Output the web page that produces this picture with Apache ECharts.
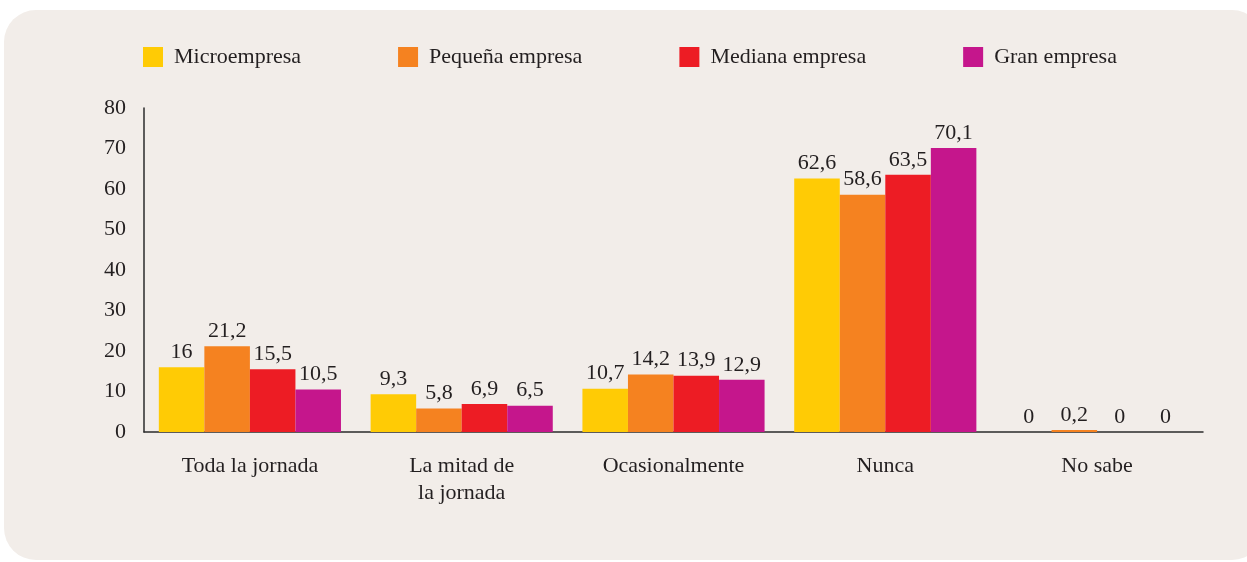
<!DOCTYPE html>
<html>
<head>
<meta charset="utf-8">
<script src="https://cdn.jsdelivr.net/npm/echarts@6/dist/echarts.min.js"></script>
<style>
html,body{margin:0;padding:0;background:#fff;}
#panel{position:absolute;left:4px;top:10px;width:1260px;height:550px;background:#F2EDE9;border-radius:32px;}
#main{position:absolute;left:0;top:0;width:1247px;height:562px;}
</style>
</head>
<body>
<div id="panel"></div>
<div id="main"></div>
<script>
var categories = ['Toda la jornada', 'La mitad de\nla jornada', 'Ocasionalmente', 'Nunca', 'No sabe'];
var micro = [16, 9.3, 10.7, 62.6, 0];
var pequena = [21.2, 5.8, 14.2, 58.6, 0.2];
var mediana = [15.5, 6.9, 13.9, 63.5, 0];
var gran = [10.5, 6.5, 12.9, 70.1, 0];
var yTicks = [0, 10, 20, 30, 40, 50, 60, 70, 80];

var fuente = '"Liberation Serif", "DejaVu Serif", serif';
var etiqueta = {
    show: true,
    position: 'top',
    distance: 4,
    color: '#231F20',
    fontFamily: fuente,
    fontSize: 22,
    formatter: function (p) { return String(p.value).replace('.', ','); }
};

var mychart = echarts.init(document.getElementById('main'));
mychart.setOption({
    backgroundColor: 'transparent',
    color: ['#FFCB05', '#F58220', '#ED1C24', '#C5168C'],
    legend: {
        left: 138,
        top: 41,
        itemWidth: 20,
        itemHeight: 20,
        itemGap: 97,
        icon: 'rect',
        textStyle: {
            fontFamily: fuente,
            fontSize: 22,
            color: '#231F20',
            padding: [0, 0, 0, 6]
        },
        data: ['Microempresa', 'Pequeña empresa', 'Mediana empresa', 'Gran empresa']
    },
    grid: {
        left: 144,
        right: 44,
        top: 108,
        bottom: 130,
        containLabel: false
    },
    xAxis: {
        type: 'category',
        data: categories,
        axisLine: { show: true, lineStyle: { color: '#2b2b2b', width: 1.5 } },
        axisTick: { show: false },
        axisLabel: {
            color: '#231F20',
            fontFamily: fuente,
            fontSize: 22,
            margin: 21,
            lineHeight: 27
        }
    },
    yAxis: {
        type: 'value',
        min: yTicks[0],
        max: yTicks[yTicks.length - 1],
        interval: 10,
        axisLine: { show: true, lineStyle: { color: '#2b2b2b', width: 1.5 } },
        axisTick: { show: false },
        splitLine: { show: false },
        axisLabel: {
            color: '#231F20',
            fontFamily: fuente,
            fontSize: 22,
            margin: 18
        }
    },
    series: [
        { name: 'Microempresa', type: 'bar', data: micro, barGap: '0%', barCategoryGap: '14%', label: etiqueta },
        { name: 'Pequeña empresa', type: 'bar', data: pequena, barGap: '0%', barCategoryGap: '14%', label: etiqueta, barMinHeight: 2 },
        { name: 'Mediana empresa', type: 'bar', data: mediana, barGap: '0%', barCategoryGap: '14%', label: etiqueta },
        { name: 'Gran empresa', type: 'bar', data: gran, barGap: '0%', barCategoryGap: '14%', label: etiqueta }
    ]
});
</script>
</body>
</html>
